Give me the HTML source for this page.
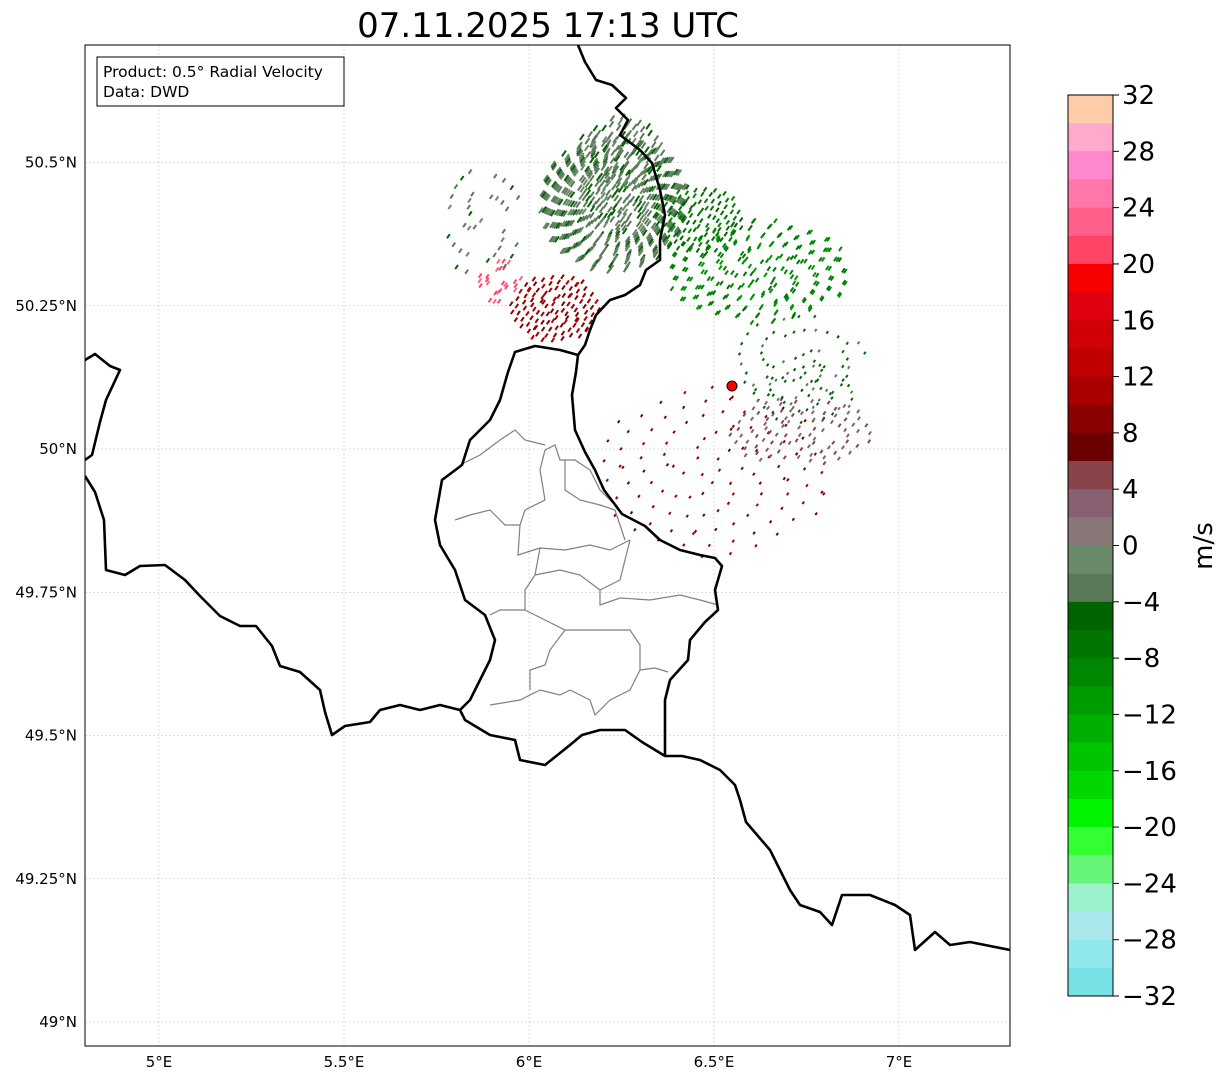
<!DOCTYPE html>
<html><head><meta charset="utf-8">
<style>
body{margin:0;background:#fff;font-family:"Liberation Sans","DejaVu Sans",sans-serif;}
svg text{font-family:"DejaVu Sans","Liberation Sans",sans-serif;}
</style></head>
<body>
<svg id="chart" width="1225" height="1081" viewBox="0 0 1225 1081" xmlns="http://www.w3.org/2000/svg">
<rect width="1225" height="1081" fill="#fff"/>
<text x="548" y="37" font-size="34" text-anchor="middle" fill="#000">07.11.2025 17:13 UTC</text>
<defs><clipPath id="mapclip"><rect x="85" y="45" width="925" height="1001"/></clipPath></defs>
<g id="grid"></g>
<g id="echoes" clip-path="url(#mapclip)"></g>
<g clip-path="url(#mapclip)" fill="none">
<path stroke="#808080" stroke-width="1.2" d="M455,520 L470,515 L490,510 L505,525 L520,525 L525,510 L545,500 L540,470 L545,450 L555,445 L560,460 L575,460 L590,470 L600,490 L615,505 M460,465 L480,455 L500,440 L515,430 L525,440 L545,445 M565,460 L565,490 L580,500 L600,505 L615,510 L625,540 M520,525 L518,555 L540,548 L565,550 L590,545 L610,550 L630,540 M540,548 L535,575 L525,590 L525,610 L500,610 L490,615 M535,575 L560,570 L580,575 L600,590 L620,580 L625,560 L630,540 M600,590 L600,605 L620,598 L650,600 L680,595 L700,600 L718,605 M525,610 L545,620 L565,630 L600,630 L630,630 L640,645 L640,670 L630,690 L610,700 L595,715 L590,700 L570,690 L560,695 L540,690 L520,700 L490,705 M565,630 L550,650 L545,665 L530,670 L530,690 M640,670 L655,668 L668,672 M570,690 L560,695"/>
<path stroke="#000" stroke-width="2.6" stroke-linejoin="round" d="M578,45 L585,62 L596,80 L612,85 L626,98 L616,108 L628,120 L620,135 L640,150 L652,163 L660,190 L665,215 L660,240 L660,260 L646,270 L640,285 L625,295 L610,300 L596,315 L590,330 L585,345 L578,355 L576,372 L572,395 L575,430 L585,452 L595,470 L604,490 L622,514 L645,526 L660,540 L680,550 L700,555 L715,558 L722,566 L715,590 L718,610 L705,622 L690,640 L688,660 L670,680 L665,700 L665,756 L682,756 L700,760 L720,770 L735,785 L740,800 L746,822 L770,850 L780,870 L790,890 L800,905 L820,912 L832,925 L842,895 L870,895 L895,905 L910,915 L915,950 L935,932 L950,945 L970,942 L990,946 L1010,950
M578,355 L560,350 L535,346 L515,352 L508,372 L500,400 L490,420 L470,440 L462,465 L442,480 L435,520 L440,545 L455,570 L465,600 L485,615 L495,640 L490,660 L480,680 L470,700 L460,710 L465,720 L490,735 L515,740 L520,760 L545,765 L570,745 L582,735 L600,730 L625,730 L642,742 L665,756
M460,710 L440,705 L420,710 L400,705 L380,710 L370,722 L345,726 L332,735 L325,712 L320,690 L300,672 L280,666 L272,646 L256,626 L240,626 L220,616 L200,596 L185,580 L165,565 L140,566 L125,575 L106,570 L104,520 L95,492 L85,476
M85,360 L95,354 L110,366 L120,370 L106,400 L100,422 L92,455 L85,460"/>
</g>
<circle cx="732" cy="386" r="5" fill="#ff0000" stroke="#000" stroke-width="1"/>
<rect x="85" y="45" width="925" height="1001" fill="none" stroke="#000" stroke-width="1"/>
<g id="axes"></g>
<g>
<rect x="97" y="57" width="247" height="49" fill="#fff" stroke="#000" stroke-width="1"/>
<text x="103" y="77" font-size="15.5" fill="#000">Product: 0.5° Radial Velocity</text>
<text x="103" y="97" font-size="15.5" fill="#000">Data: DWD</text>
</g>
<g id="cbar"></g>
<text transform="translate(1212,546) rotate(-90)" font-size="26" text-anchor="middle" fill="#000">m/s</text>
</svg>
<script>
const lonTicks=[5,5.5,6,6.5,7];
const lonLabels=["5°E","5.5°E","6°E","6.5°E","7°E"];
const latTicks=[49,49.25,49.5,49.75,50,50.25,50.5];
const latLabels=["49°N","49.25°N","49.5°N","49.75°N","50°N","50.25°N","50.5°N"];
const cbarTicks=[32,28,24,20,16,12,8,4,0,-4,-8,-12,-16,-20,-24,-28,-32];
const bandColors=["#ffccaa","#ffaacc","#ff88cc","#ff77aa","#ff5f88","#ff4466","#f80000","#e00010","#d00008","#c00000","#aa0000","#8b0000","#6a0000","#884449","#886070","#887777","#6a8a6a","#5a7a5a","#006400","#007500","#008600","#009b00","#00b000","#00c400","#00d800","#00f400","#33ff33","#66f577","#9cf2cc","#aae8ee","#90e8ec","#77e2e6"];
// echo clusters: center lon, lat, spread lon, spread lat, velocity, count
const clusterLon=[6.23,6.62,6.46,6.07,5.92,6.50,6.73,5.87,6.73,6.25,6.75];
const clusterLat=[50.43,50.31,50.40,50.245,50.29,49.96,50.03,50.40,50.155,50.52,50.10];
const clusterSpreadLon=[0.2,0.25,0.12,0.12,0.06,0.32,0.2,0.12,0.18,0.12,0.15];
const clusterSpreadLat=[0.12,0.09,0.06,0.06,0.04,0.15,0.06,0.1,0.08,0.06,0.06];
const clusterVel=[-3,-9,-7,10,22,9,4,-3,-5,-3,-4];
const clusterCount=[520,220,100,110,25,110,90,35,50,90,50];
const NS="http://www.w3.org/2000/svg";
const clusterDash=[7,5,5,5,5,3,4,5,3,7,3];
const X=lon=>159+(lon-5)*370;
const Y=lat=>449-(lat-50)*573;
const CB_TOP=95,CB_BOT=996;
const CY=v=>CB_TOP+(32-v)/64*(CB_BOT-CB_TOP);
function mk(tag,attrs,parent){const e=document.createElementNS(NS,tag);for(const k in attrs)e.setAttribute(k,attrs[k]);parent.appendChild(e);return e;}
function colorFor(v){let i=Math.floor((32-v)/2);i=Math.max(0,Math.min(31,i));return bandColors[i];}
const grid=document.getElementById('grid'),axes=document.getElementById('axes');
lonTicks.forEach((t,i)=>{
 const l=mk('line',{x1:X(t),x2:X(t),y1:45,y2:1046,stroke:'#bbb','stroke-width':0.5,'stroke-dasharray':'2,2'},grid);
 
 
 const tx=mk('text',{x:X(t),y:1067,'font-size':15,'text-anchor':'middle',fill:'#000'},axes);
 tx.textContent=lonLabels[i];
 
 
});
latTicks.forEach((t,i)=>{
 const l=mk('line',{x1:85,x2:1010,y1:Y(t),y2:Y(t),stroke:'#bbb','stroke-width':0.5,'stroke-dasharray':'2,2'},grid);
 
 
 const tx=mk('text',{x:77,y:Y(t)+5,'font-size':15,'text-anchor':'end',fill:'#000'},axes);
 tx.textContent=latLabels[i];
 
 
});
const eg=document.getElementById('echoes');
const phi=0.6180339887,phi2=0.7548776662;
clusterLon.forEach((lon,c)=>{
 const n=clusterCount[c], d=clusterDash[c];
 for(let k=0;k<n;k++){
  const a=((k+1)*phi+c*0.13)%1, b=((k+1)*phi2+c*0.29)%1;
  const r=Math.sqrt(a), th=b*2*Math.PI;
  const lo=lon+clusterSpreadLon[c]*r*Math.cos(th);
  const la=clusterLat[c]+clusterSpreadLat[c]*r*Math.sin(th);
  const v=clusterVel[c]+((k%5)-2)*0.6;
  const x=X(lo),y=Y(la);
  const rc=mk('rect',{x:x-d/2,y:y-1,width:d,height:2,fill:colorFor(v),transform:`rotate(-55 ${x} ${y})`},eg);
  
  
 }
});
const cb=document.getElementById('cbar');
bandColors.forEach((col,i)=>{
 const v=32-i*2;
 const r=mk('rect',{x:1068,y:CY(v),width:45,height:CY(v-2)-CY(v)+0.5,fill:col},cb);
 
 
});
mk('rect',{x:1068,y:CB_TOP,width:45,height:CB_BOT-CB_TOP,fill:'none',stroke:'#000','stroke-width':1},cb);
cbarTicks.forEach(t=>{
 mk('line',{x1:1113,x2:1119,y1:CY(t),y2:CY(t),stroke:'#000','stroke-width':1},cb);
 const tx=mk('text',{x:1122,y:CY(t)+9,'font-size':26,fill:'#000'},cb);
 tx.textContent=t<0?'\u2212'+Math.abs(t):String(t);
 
 
});
</script>
</body></html>
